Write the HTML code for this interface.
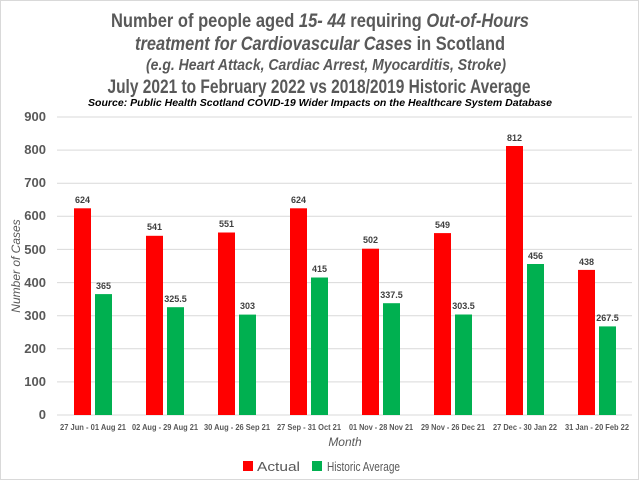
<!DOCTYPE html>
<html><head><meta charset="utf-8"><style>html,body{margin:0;padding:0;background:#fff}svg{display:block}</style></head>
<body>
<svg width="639" height="480" viewBox="0 0 639 480" xmlns="http://www.w3.org/2000/svg" font-family="'Liberation Sans', sans-serif">
<rect x="0.5" y="0.5" width="638" height="479" fill="#fff" stroke="#d9d9d9"/>
<g fill="#595959" font-weight="bold" text-anchor="middle">
<text x="320" y="27" font-size="19" textLength="418" lengthAdjust="spacingAndGlyphs">Number of people aged <tspan font-style="italic">15- 44</tspan> requiring <tspan font-style="italic">Out-of-Hours</tspan></text>
<text x="320" y="50" font-size="19" textLength="370" lengthAdjust="spacingAndGlyphs"><tspan font-style="italic">treatment for Cardiovascular Cases</tspan> in Scotland</text>
<text x="326" y="70" font-size="16" font-style="italic" textLength="360" lengthAdjust="spacingAndGlyphs">(e.g. Heart Attack, Cardiac Arrest, Myocarditis, Stroke)</text>
<text x="319" y="93" font-size="19" textLength="423" lengthAdjust="spacingAndGlyphs">July 2021 to February 2022 vs 2018/2019 Historic Average</text>
</g>
<text x="320" y="106" font-size="10" font-weight="bold" font-style="italic" fill="#000" text-anchor="middle" textLength="464" lengthAdjust="spacingAndGlyphs">Source: Public Health Scotland COVID-19 Wider Impacts on the Healthcare System Database</text>
<g stroke="#d9d9d9" stroke-width="1">
<line x1="57" x2="632" y1="117" y2="117"/><line x1="57" x2="632" y1="150.1" y2="150.1"/><line x1="57" x2="632" y1="183.2" y2="183.2"/><line x1="57" x2="632" y1="216.3" y2="216.3"/><line x1="57" x2="632" y1="249.4" y2="249.4"/><line x1="57" x2="632" y1="282.6" y2="282.6"/><line x1="57" x2="632" y1="315.7" y2="315.7"/><line x1="57" x2="632" y1="348.8" y2="348.8"/><line x1="57" x2="632" y1="381.9" y2="381.9"/><line x1="57" x2="632" y1="415" y2="415"/>
</g>
<g font-size="13" fill="#595959" font-weight="bold" text-anchor="end">
<text x="46" y="121">900</text><text x="46" y="154">800</text><text x="46" y="187">700</text><text x="46" y="220">600</text><text x="46" y="254">500</text><text x="46" y="287">400</text><text x="46" y="320">300</text><text x="46" y="353">200</text><text x="46" y="386">100</text><text x="46" y="419">0</text>
</g>
<text transform="translate(20,266) rotate(-90)" font-size="12" font-style="italic" fill="#595959" text-anchor="middle">Number of Cases</text>
<text x="345" y="446" font-size="12" font-style="italic" fill="#595959" text-anchor="middle">Month</text>
<g font-size="9" font-weight="bold" fill="#404040" text-anchor="middle">
<rect x="74" y="208.3" width="17" height="206.7" fill="#ff0000"/><rect x="95" y="294.1" width="17" height="120.9" fill="#00b050"/>
<text x="82.5" y="203">624</text><text x="103.5" y="289">365</text>
<rect x="146" y="235.8" width="17" height="179.2" fill="#ff0000"/><rect x="167" y="307.2" width="17" height="107.8" fill="#00b050"/>
<text x="154.5" y="230">541</text><text x="175.5" y="302">325.5</text>
<rect x="218" y="232.5" width="17" height="182.5" fill="#ff0000"/><rect x="239" y="314.6" width="17" height="100.4" fill="#00b050"/>
<text x="226.5" y="227">551</text><text x="247.5" y="309">303</text>
<rect x="290" y="208.3" width="17" height="206.7" fill="#ff0000"/><rect x="311" y="277.5" width="17" height="137.5" fill="#00b050"/>
<text x="298.5" y="203">624</text><text x="319.5" y="272">415</text>
<rect x="362" y="248.7" width="17" height="166.3" fill="#ff0000"/><rect x="383" y="303.2" width="17" height="111.8" fill="#00b050"/>
<text x="370.5" y="243">502</text><text x="391.5" y="298">337.5</text>
<rect x="434" y="233.1" width="17" height="181.9" fill="#ff0000"/><rect x="455" y="314.5" width="17" height="100.5" fill="#00b050"/>
<text x="442.5" y="228">549</text><text x="463.5" y="309">303.5</text>
<rect x="506" y="146" width="17" height="269" fill="#ff0000"/><rect x="527" y="264" width="17" height="151" fill="#00b050"/>
<text x="514.5" y="141">812</text><text x="535.5" y="259">456</text>
<rect x="578" y="269.9" width="17" height="145.1" fill="#ff0000"/><rect x="599" y="326.4" width="17" height="88.6" fill="#00b050"/>
<text x="586.5" y="265">438</text><text x="607.5" y="321">267.5</text>
</g>
<g font-size="8.5" font-weight="bold" fill="#595959" text-anchor="middle">
<text x="93" y="430" textLength="66" lengthAdjust="spacingAndGlyphs">27 Jun - 01 Aug 21</text><text x="165" y="430" textLength="66" lengthAdjust="spacingAndGlyphs">02 Aug - 29 Aug 21</text><text x="237" y="430" textLength="66" lengthAdjust="spacingAndGlyphs">30 Aug - 26 Sep 21</text><text x="309" y="430" textLength="64" lengthAdjust="spacingAndGlyphs">27 Sep - 31 Oct 21</text><text x="381" y="430" textLength="64" lengthAdjust="spacingAndGlyphs">01 Nov - 28 Nov 21</text><text x="453" y="430" textLength="64" lengthAdjust="spacingAndGlyphs">29 Nov - 26 Dec 21</text><text x="525" y="430" textLength="64" lengthAdjust="spacingAndGlyphs">27 Dec - 30 Jan 22</text><text x="597" y="430" textLength="64" lengthAdjust="spacingAndGlyphs">31 Jan - 20 Feb 22</text>
</g>
<rect x="243" y="461" width="10" height="10" fill="#ff0000"/>
<text x="257" y="471" font-size="13" fill="#595959" textLength="43" lengthAdjust="spacingAndGlyphs">Actual</text>
<rect x="312" y="461" width="10" height="10" fill="#00b050"/>
<text x="327" y="471" font-size="13" fill="#595959" textLength="73" lengthAdjust="spacingAndGlyphs">Historic Average</text>
</svg>
</body></html>
